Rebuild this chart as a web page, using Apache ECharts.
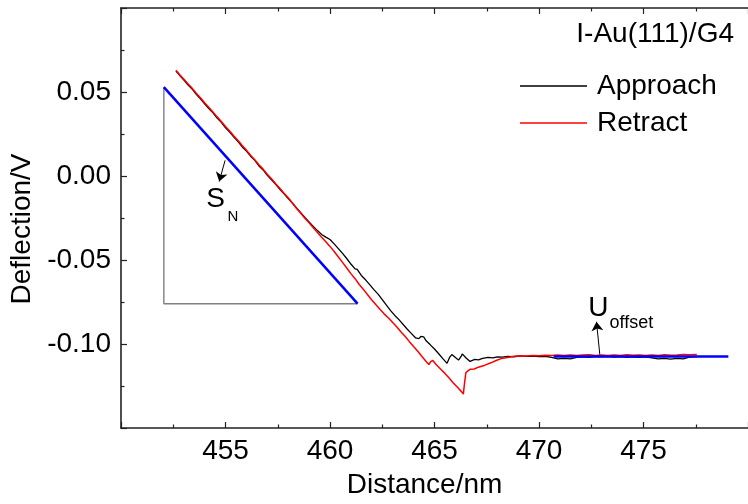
<!DOCTYPE html>
<html>
<head>
<meta charset="utf-8">
<script src="https://cdn.jsdelivr.net/npm/echarts@6/dist/echarts.min.js"></script>
<style>
html,body{margin:0;padding:0;background:#fff;}
#chart{width:748px;height:504px;}
</style>
</head>
<body>
<div id="chart"></div>
<script>
// ---- data ----
const approachX = [452.63,452.80,453.00,453.20,453.40,453.60,453.80,454.00,454.20,454.40,454.60,454.80,455.00,455.20,455.40,455.60,455.80,456.00,456.20,456.40,456.60,456.80,457.00,457.20,457.40,457.60,457.80,458.00,458.20,458.40,458.60,458.80,459.00,459.20,459.40,459.60,459.80,460.00,460.20,460.40,460.60,460.80,461.00,461.20,461.30,461.50,461.70,461.90,462.10,462.30,462.50,462.70,462.90,463.10,463.30,463.50,463.70,463.90,464.10,464.25,464.35,464.48,464.60,464.80,465.00,465.20,465.40,465.60,465.66,465.72,465.83,466.00,466.15,466.23,466.28,466.33,466.50,466.70,466.93,467.10,467.30,467.56,467.80,468.00,468.25,468.49,468.80,469.10,469.40,469.70,470.00,470.30,470.60,470.90,471.20,471.50,471.80,472.10,472.40,472.70,473.00,473.30,473.60,473.90,474.20,474.50,474.80,475.10,475.40,475.70,476.00,476.30,476.60,476.90,477.20,477.55];
const approachY = [0.0625,0.0600,0.0572,0.0543,0.0518,0.0486,0.0459,0.0430,0.0401,0.0376,0.0345,0.0319,0.0287,0.0262,0.0232,0.0205,0.0173,0.0148,0.0118,0.0093,0.0060,0.0036,0.0004,-0.0022,-0.0050,-0.0079,-0.0106,-0.0134,-0.0161,-0.0190,-0.0218,-0.0247,-0.0274,-0.0300,-0.0325,-0.0348,-0.0364,-0.0378,-0.0404,-0.0432,-0.0461,-0.0491,-0.0524,-0.0553,-0.0556,-0.0592,-0.0618,-0.0647,-0.0676,-0.0703,-0.0736,-0.0769,-0.0801,-0.0830,-0.0855,-0.0884,-0.0912,-0.0938,-0.0964,-0.0968,-0.0955,-0.0957,-0.0981,-0.1005,-0.1030,-0.1058,-0.1087,-0.1115,-0.1122,-0.1080,-0.1063,-0.1080,-0.1096,-0.1104,-0.1072,-0.1059,-0.1082,-0.1104,-0.1092,-0.1095,-0.1085,-0.1080,-0.1083,-0.1077,-0.1078,-0.1074,-0.1076,-0.1071,-0.1074,-0.1072,-0.1075,-0.1073,-0.1079,-0.1088,-0.1086,-0.1089,-0.1080,-0.1076,-0.1079,-0.1074,-0.1077,-0.1074,-0.1078,-0.1075,-0.1080,-0.1077,-0.1079,-0.1076,-0.1082,-0.1088,-0.1085,-0.1090,-0.1086,-0.1088,-0.1078,-0.1075];

const retractX = [452.63,452.80,453.00,453.20,453.40,453.60,453.80,454.00,454.20,454.40,454.60,454.80,455.00,455.20,455.40,455.60,455.80,456.00,456.20,456.40,456.60,456.80,457.00,457.20,457.40,457.60,457.80,458.00,458.20,458.40,458.60,458.80,459.00,459.20,459.40,459.60,459.80,460.00,460.20,460.40,460.60,460.80,461.00,461.20,461.40,461.60,461.80,462.00,462.20,462.40,462.60,462.80,463.00,463.20,463.40,463.60,463.80,464.00,464.20,464.40,464.60,464.73,464.82,464.92,465.10,465.30,465.50,465.70,465.90,466.10,466.30,466.38,466.43,466.50,466.60,466.70,466.90,467.10,467.41,467.70,467.95,468.19,468.50,468.82,469.10,469.40,469.70,470.00,470.30,470.60,470.90,471.20,471.50,471.80,472.10,472.40,472.70,473.00,473.30,473.60,473.90,474.20,474.50,474.80,475.10,475.40,475.70,476.00,476.30,476.60,476.90,477.20,477.55];
const retractY = [0.0630,0.0604,0.0578,0.0549,0.0523,0.0493,0.0466,0.0436,0.0409,0.0381,0.0352,0.0325,0.0295,0.0268,0.0238,0.0211,0.0181,0.0154,0.0124,0.0097,0.0067,0.0041,0.0010,-0.0016,-0.0046,-0.0073,-0.0103,-0.0130,-0.0161,-0.0194,-0.0222,-0.0251,-0.0279,-0.0308,-0.0336,-0.0364,-0.0391,-0.0419,-0.0449,-0.0482,-0.0514,-0.0548,-0.0581,-0.0611,-0.0646,-0.0675,-0.0707,-0.0738,-0.0767,-0.0795,-0.0822,-0.0845,-0.0872,-0.0899,-0.0928,-0.0955,-0.0986,-0.1015,-0.1043,-0.1074,-0.1104,-0.1122,-0.1105,-0.1098,-0.1125,-0.1150,-0.1175,-0.1203,-0.1232,-0.1258,-0.1285,-0.1298,-0.1240,-0.1171,-0.1160,-0.1151,-0.1149,-0.1138,-0.1126,-0.1112,-0.1098,-0.1087,-0.1080,-0.1073,-0.1070,-0.1072,-0.1068,-0.1070,-0.1067,-0.1069,-0.1066,-0.1068,-0.1065,-0.1069,-0.1066,-0.1064,-0.1068,-0.1066,-0.1069,-0.1065,-0.1068,-0.1064,-0.1067,-0.1065,-0.1069,-0.1066,-0.1068,-0.1064,-0.1067,-0.1065,-0.1062,-0.1064,-0.1063];

// slope triangle (S_N) and offset line (U_offset)
const triangleX = [452.05, 452.05, 461.32];
const triangleY = [0.0529, -0.0760, -0.0760];
const slopeX = [452.05, 461.32];
const slopeY = [0.0529, -0.0760];
const offsetX = [470.70, 479.06];
const offsetY = [-0.1075, -0.1075];

// axes
const xMin = 450, xMax = 480, xStep = 5;
const yMin = -0.15, yMax = 0.10, yStep = 0.05;

// annotations
const chartTitle = 'I-Au(111)/G4';
const xName = 'Distance/nm';
const yName = 'Deflection/V';
const seriesNames = ['Approach', 'Retract'];
const snArrow = [[454.98, 0.0093], [454.70, -0.0033]];
const uArrow = [[472.91, -0.1063], [472.75, -0.0868]];
const labelS = [454.52, -0.0140];
const labelN = [455.36, -0.0243];
const labelU = [472.84, -0.0785];
const labelOffset = [474.42, -0.0876];

const zip = (a, b) => a.map((v, i) => [v, b[i]]);
const FONT = 'Arial, "Liberation Sans", sans-serif';
const AX = '#222';

function textPoint(pos, txt, size) {
  return {
    type: 'scatter', data: [pos], symbol: 'circle', symbolSize: 0,
    itemStyle: {color: '#000', opacity: 1},
    silent: true, z: 10,
    label: {show: true, position: 'inside', formatter: txt, color: '#000', opacity: 1,
      textBorderWidth: 0, fontSize: size, fontFamily: FONT}
  };
}
function arrow(pts) {
  return {
    type: 'lines', coordinateSystem: 'cartesian2d', silent: true, z: 9,
    symbol: ['none', 'arrow'], symbolSize: 9,
    lineStyle: {color: '#000', width: 1, opacity: 1, curveness: 0},
    data: [{coords: pts}]
  };
}

const chart = echarts.init(document.getElementById('chart'), null, {renderer: 'canvas'});
const axisCommon = {
  type: 'value',
  axisLine: {show: true, onZero: false, lineStyle: {color: AX, width: 1.6}},
  axisTick: {show: true, inside: true, length: 6, lineStyle: {color: AX, width: 1.2}},
  minorTick: {show: true, splitNumber: 2, length: 3.5, lineStyle: {color: AX, width: 1.2}},
  splitLine: {show: false}
};
chart.setOption({
  animation: false,
  backgroundColor: '#fff',
  title: {
    text: chartTitle, right: 9, top: 15,
    textStyle: {fontSize: 28, fontWeight: 'normal', color: '#000', fontFamily: FONT}
  },
  legend: {
    data: seriesNames.map(n => ({name: n, icon: 'rect'})),
    orient: 'vertical', left: 520, top: 72,
    itemWidth: 67, itemHeight: 1.4, itemGap: 9, padding: 0,
    textStyle: {fontSize: 28, color: '#000', fontFamily: FONT, padding: [0, 0, 0, 5]}
  },
  grid: {left: 121, top: 8, width: 636, height: 426.7, containLabel: false},
  xAxis: [
    Object.assign({}, axisCommon, {
      min: xMin, max: xMax, interval: xStep, position: 'bottom',
      name: xName, nameLocation: 'middle', nameGap: 43,
      nameTextStyle: {fontSize: 28, color: '#000', fontFamily: FONT, padding: [0, 20, 0, 0]},
      axisLabel: {show: true, showMinLabel: false, showMaxLabel: false, margin: 9, fontSize: 28, color: '#000', fontFamily: FONT}
    }),
    Object.assign({}, axisCommon, {
      min: xMin, max: xMax, interval: xStep, position: 'top',
      axisLabel: {show: false}
    })
  ],
  yAxis: [
    Object.assign({}, axisCommon, {
      min: yMin, max: yMax, interval: yStep, position: 'left',
      name: yName, nameLocation: 'middle', nameGap: 69, nameRotate: 90,
      nameTextStyle: {fontSize: 28, color: '#000', fontFamily: FONT, padding: [0, 22, 0, 0]},
      axisLabel: {show: true, showMinLabel: false, showMaxLabel: false, margin: 10, fontSize: 28, color: '#000', fontFamily: FONT,
        formatter: v => v.toFixed(2)}
    })
  ],
  series: [
    {name: seriesNames[0], type: 'line', data: zip(approachX, approachY), symbol: 'none', showSymbol: false,
     lineStyle: {color: '#000', width: 1.3}, itemStyle: {color: '#000'}, z: 3},
    {name: seriesNames[1], type: 'line', data: zip(retractX, retractY), symbol: 'none', showSymbol: false,
     lineStyle: {color: '#ff0000', width: 1.5}, itemStyle: {color: '#ff0000'}, z: 4},
    {name: 'triangle', type: 'line', data: zip(triangleX, triangleY), symbol: 'none', silent: true,
     lineStyle: {color: '#808080', width: 1.4}, z: 2},
    {name: 'slope', type: 'line', data: zip(slopeX, slopeY), symbol: 'none', silent: true,
     lineStyle: {color: '#0000ff', width: 2.5}, z: 5},
    {name: 'offset', type: 'line', data: zip(offsetX, offsetY), symbol: 'none', silent: true,
     lineStyle: {color: '#0000ff', width: 2.5}, z: 5},
    arrow(snArrow),
    arrow(uArrow),
    textPoint(labelS, 'S', 28),
    textPoint(labelN, 'N', 15),
    textPoint(labelU, 'U', 28),
    textPoint(labelOffset, 'offset', 18)
  ]
});
</script>
</body>
</html>
